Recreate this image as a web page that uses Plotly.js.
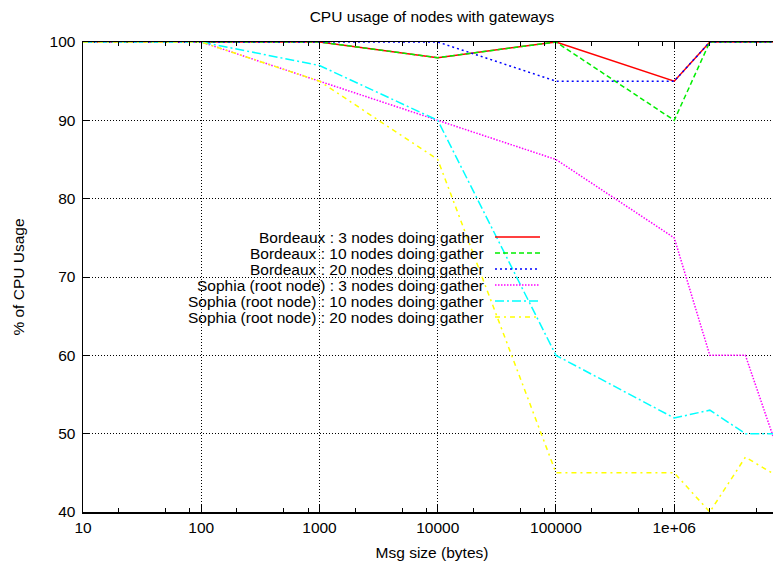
<!DOCTYPE html>
<html>
<head>
<meta charset="utf-8">
<script src="https://cdn.plot.ly/plotly-3.0.1.min.js"></script>
<style>
html, body { margin:0; padding:0; overflow:hidden; background:#fff; }
#wrap { width:773px; height:561px; overflow:hidden; position:relative; }
#chart { width:790px; height:561px; }
</style>
</head>
<body>
<div id="wrap"><div id="chart"></div></div>
<script>
// Message sizes (bytes)
const msgSize = [10, 100, 1000, 10000, 100000, 1000000, 2000000, 4000000, 8000000];

// CPU usage (%) per series
const bordeaux3  = [100, 100, 100, 98, 100, 95, 100, 100, 100];
const bordeaux10 = [100, 100, 100, 98, 100, 90, 100, 100, 100];
const bordeaux20 = [100, 100, 100, 100, 95, 95, 100, 100, 100];
const sophia3    = [100, 100, 95, 90, 85, 75, 60, 60, 46.7];
const sophia10   = [100, 100, 97, 90, 60, 52, 53, 50, 50];
const sophia20   = [100, 100, 95, 85, 45, 45, 40, 47, 44.3];

const seriesNames = [
  "Bordeaux : 3 nodes doing gather",
  "Bordeaux : 10 nodes doing gather",
  "Bordeaux : 20 nodes doing gather",
  "Sophia (root node) : 3 nodes doing gather",
  "Sophia (root node) : 10 nodes doing gather",
  "Sophia (root node) : 20 nodes doing gather"
];
const seriesValues = [bordeaux3, bordeaux10, bordeaux20, sophia3, sophia10, sophia20];

// Axis ticks
const xTickVals = [10, 100, 1000, 10000, 100000, 1000000];
const xTickText = ["10", "100", "1000", "10000", "100000", "1e+06"];
const xMinorVals = [20, 50, 80, 200, 500, 800, 2000, 5000, 8000, 20000, 50000, 80000,
                    200000, 500000, 800000, 2000000, 5000000];
const yTickVals = [40, 50, 60, 70, 80, 90, 100];

// Styles
const colors = ["#ff0000", "#00ee00", "#0000ff", "#ff00ff", "#00ffff", "#ffff00"];
const dashes = ["solid", "5px,3px", "2px,3px", "1.5px,1.5px", "9px,3px,2px,3px", "5px,4px,2px,4px"];

const traces = seriesValues.map((v, i) => ({
  type: "scatter", mode: "lines",
  x: msgSize, y: v, name: seriesNames[i],
  line: { color: colors[i], width: 1.5, dash: dashes[i] },
  showlegend: false, hoverinfo: "skip", cliponaxis: true
}));

// Custom gnuplot-style key (text right, sample on the right)
const plotL = 83, plotR = 781, plotT = 42, plotB = 512;
const px = X => (X - plotL) / (plotR - plotL);
const py = Y => (plotB - Y) / (plotB - plotT);
const keyRowsY = [237, 253, 269, 285, 301, 317];

const shapes = [{
  type: "rect", xref: "paper", yref: "paper", layer: "between",
  x0: 0.002, x1: px(548), y0: py(325), y1: py(228),
  fillcolor: "#ffffff", line: { width: 0 }
}];
const annotations = [];
seriesNames.forEach((n, i) => {
  annotations.push({
    xref: "paper", yref: "paper", x: px(486), y: py(keyRowsY[i]),
    xanchor: "right", yanchor: "middle", showarrow: false, text: n,
    font: { family: "Liberation Sans, Arial, sans-serif", size: 15.5, color: "#000" }
  });
  shapes.push({
    type: "line", xref: "paper", yref: "paper", layer: "above",
    x0: px(495), x1: px(540), y0: py(keyRowsY[i]), y1: py(keyRowsY[i]),
    line: { color: colors[i], width: 1.5, dash: dashes[i] }
  });
});

const font = { family: "Liberation Sans, Arial, sans-serif", size: 15.5, color: "#000" };

const layout = {
  width: 790, height: 561,
  margin: { l: plotL, r: 790 - plotR, t: plotT, b: 561 - plotB, pad: 0 },
  paper_bgcolor: "#fff", plot_bgcolor: "#fff",
  font: font,
  title: { text: "CPU usage of nodes with gateways", font: font, x: 0.5, xref: "paper",
           y: 1 - 17 / 561, yref: "container", yanchor: "middle" },
  xaxis: {
    type: "log", range: [1, Math.log10(8000000)],
    tickmode: "array", tickvals: xTickVals, ticktext: xTickText,
    ticks: "inside", ticklen: 7, tickwidth: 1, tickcolor: "#000",
    showline: true, linecolor: "#000", linewidth: 1.5, mirror: "allticks",
    showgrid: true, gridcolor: "#000", gridwidth: 1, griddash: "1px,2px",
    zeroline: false, ticklabelstandoff: 1,
    minor: { tickmode: "array", tickvals: xMinorVals, ticks: "inside", ticklen: 4,
             tickwidth: 1, tickcolor: "#000", showgrid: false },
    title: { text: "Msg size (bytes)", font: font, standoff: 12 },
    automargin: false, fixedrange: true
  },
  yaxis: {
    range: [40, 100],
    tickmode: "array", tickvals: yTickVals,
    ticks: "inside", ticklen: 7, tickwidth: 1, tickcolor: "#000",
    showline: true, linecolor: "#000", linewidth: 1.5, mirror: "allticks",
    showgrid: true, gridcolor: "#000", gridwidth: 1, griddash: "1px,2px",
    zeroline: false, ticklabelstandoff: 3,
    title: { text: "% of CPU Usage", font: font, standoff: 21 },
    automargin: false, fixedrange: true
  },
  shapes: shapes,
  annotations: annotations,
  showlegend: false
};

Plotly.newPlot("chart", traces, layout, { displayModeBar: false, staticPlot: true });
</script>
</body>
</html>
